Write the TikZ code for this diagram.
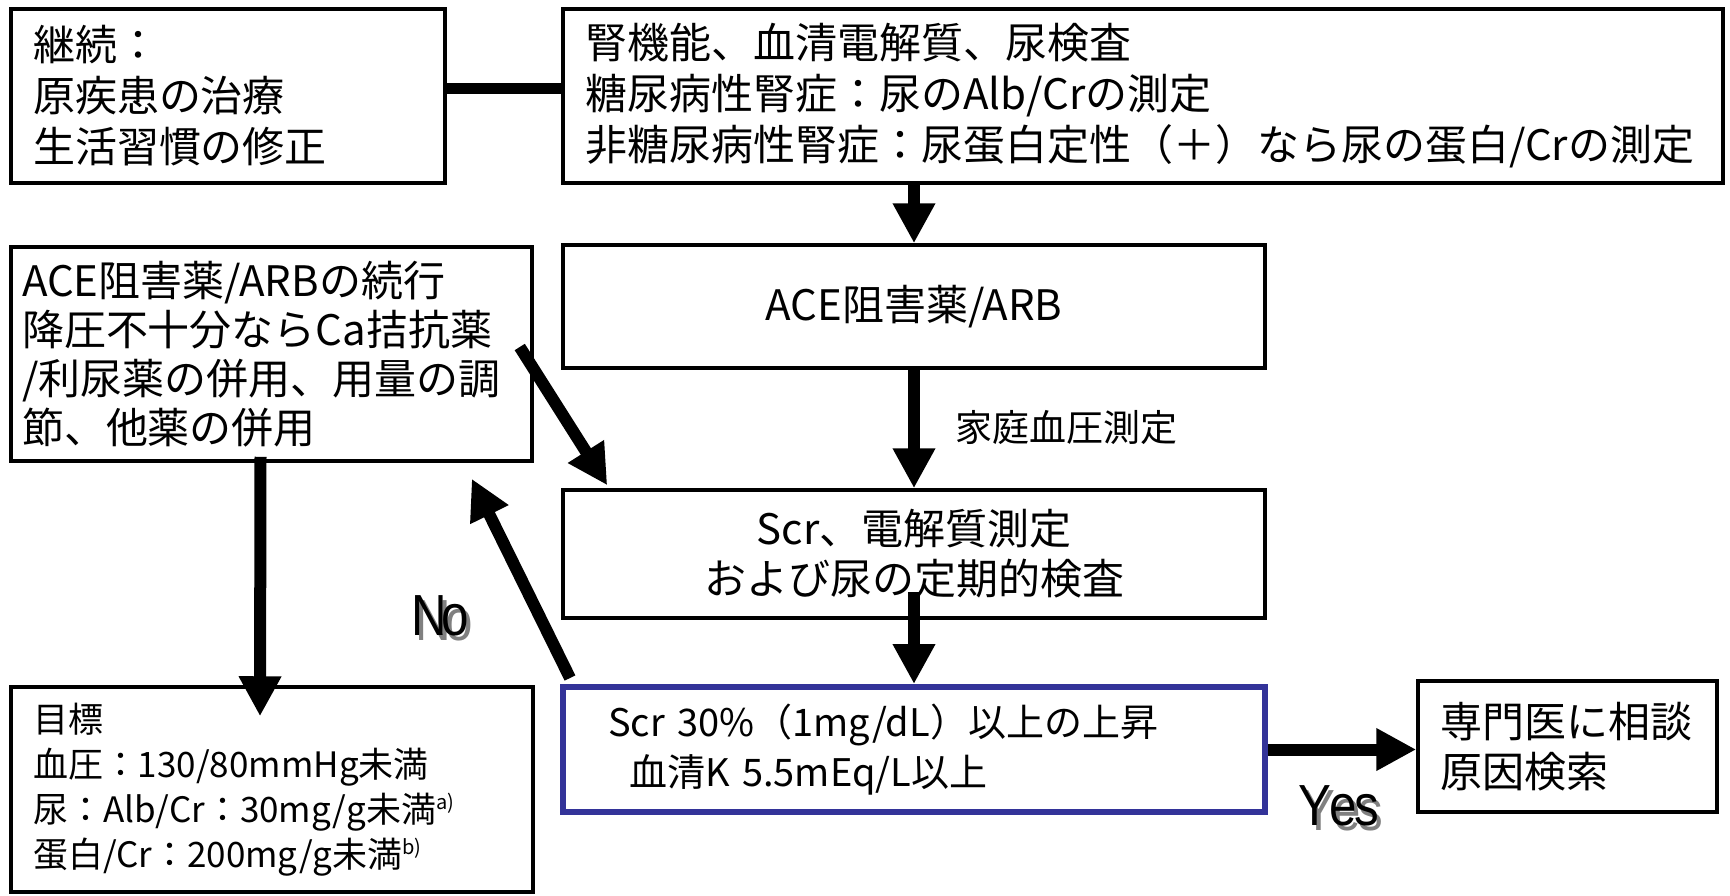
\documentclass[tikz,border=0pt]{standalone}
\usepackage{fontspec}
\usepackage{graphicx}
\setmainfont{Noto Sans CJK JP}
\newfontfamily\arialfont{Liberation Sans}
\usetikzlibrary{arrows.meta,calc}
\definecolor{boxblue}{RGB}{51,51,153}
\definecolor{shadowgray}{RGB}{128,128,128}
\newcommand{\shadowword}[1]{\makebox[0pt][l]{\hspace*{4pt}\raisebox{-5pt}{\textcolor{shadowgray}{#1}}}#1}
\begin{document}
\begin{tikzpicture}[x=1pt,y=-1pt,
  box/.style={draw=black, line width=3.5pt, inner ysep=0pt, align=left, anchor=center, text=black},
  arr/.style={line width=12pt, -{Triangle[length=40pt,width=40pt]}},
  big/.style={font=\fontsize{42pt}{51pt}\selectfont},
  yesno/.style={inner sep=0pt, text=black, font=\arialfont\fontsize{58pt}{58pt}\selectfont},
 ]
\fill[white] (0,0) rectangle (1730,895);
\useasboundingbox (0,0) rectangle (1730,895);

% boxes
\node[box, text width=390pt, inner xsep=22pt, minimum height=174pt, big] (A) at (228,96)
  {継続：\\原疾患の治療\\生活習慣の修正};
\node[box, text width=1116pt, inner xsep=22pt, minimum height=174pt, big] (B) at (1143,96)
  {腎機能、血清電解質、尿検査\\糖尿病性腎症：尿のAlb/Crの測定\\非糖尿病性腎症：尿蛋白定性（＋）なら尿の蛋白/Crの測定};
\node[box, text width=499pt, inner xsep=11pt, minimum height=214pt, font=\fontsize{42pt}{49pt}\selectfont] (C) at (271.5,354)
  {ACE阻害薬/ARBの続行\\降圧不十分ならCa拮抗薬\\/利尿薬の併用、用量の調\\節、他薬の併用};
\node[box, minimum width=702pt, minimum height=123pt, align=center, big] (D) at (914,306.5)
  {ACE阻害薬/ARB};
\node[box, minimum width=702pt, minimum height=128pt, align=center, font=\fontsize{42pt}{50pt}\selectfont] (E) at (914,554)
  {Scr、電解質測定\\および尿の定期的検査};
\node[box, draw=boxblue, line width=6pt, text width=612pt, inner xsep=45pt, minimum height=125pt, font=\fontsize{38pt}{50pt}\selectfont] (F) at (914,749.5)
  {Scr 30\%（1mg/dL）以上の上昇\\\hspace*{21pt}血清K 5.5mEq/L以上};
\node[box, text width=478pt, inner xsep=22pt, minimum height=205pt, font=\fontsize{35pt}{45pt}\selectfont] (G) at (272,789.5)
  {目標\\血圧：130/80mmHg未満\\尿：Alb/Cr：30mg/g未満{\fontsize{20pt}{20pt}\selectfont\raisebox{13pt}{a)}}\\蛋白/Cr：200mg/g未満{\fontsize{20pt}{20pt}\selectfont\raisebox{13pt}{b)}}};
\node[box, text width=255pt, inner xsep=22pt, minimum height=131pt, font=\fontsize{42pt}{50pt}\selectfont] (H) at (1567.5,746.5)
  {専門医に相談\\原因検索};

% label
\node[anchor=west, inner sep=0pt, font=\fontsize{37pt}{37pt}\selectfont] (lbl) at (955,428) {家庭血圧測定};

% connectors
\draw[line width=11pt] ([yshift=8pt]A.east) -- ([yshift=8pt]B.west);
\draw[arr] (B.south -| D.north) -- (D.north);
\draw[arr] (D.south) -- (E.north);
\draw[arr] ([yshift=28pt]E.south) -- (F.north);
\draw[arr] ([shift={(-14pt,7pt)}]C.east) -- ([shift={(46pt,3pt)}]E.north west);
\draw[arr] ([shift={(10pt,6pt)}]F.north west) -- ([shift={(-62pt,-16pt)}]C.south east);
\draw[arr] ([shift={(-11pt,6pt)}]C.south) -- ([shift={(-12pt,-31pt)}]G.north);
\draw[arr] (F.east) -- (F.east -| H.west);

% No / Yes with shadow
\node[yesno] (no) at (440,618) {\shadowword{\scalebox{0.85}[1]{N\kern-0.12em o}}};
\node[yesno] (yes) at (1339,808) {\shadowword{\scalebox{0.85}[1]{Y\kern-0.04em e\kern-0.04em s}}};
\end{tikzpicture}
\end{document}
